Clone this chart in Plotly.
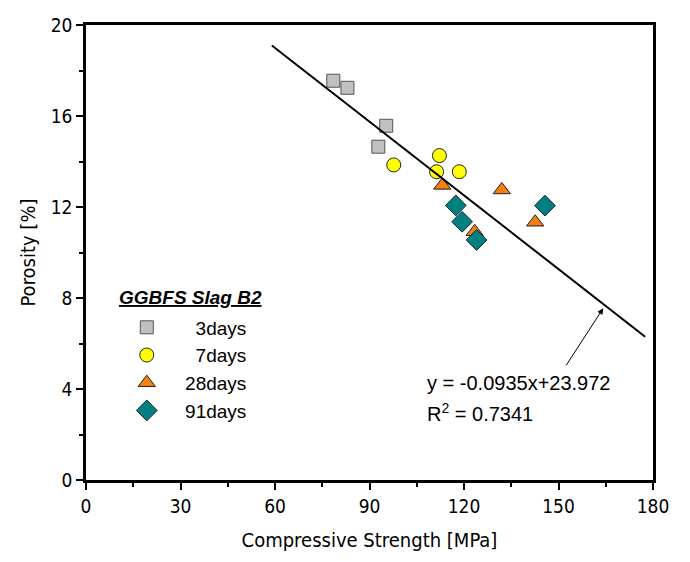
import plotly.graph_objects as go

# Data
d3_x = [78.5, 83.0, 95.3, 92.8]
d3_y = [17.55, 17.24, 15.57, 14.65]
d7_x = [97.7, 112.2, 111.3, 118.5]
d7_y = [13.85, 14.26, 13.55, 13.55]
d28_x = [113.1, 132.0, 142.6, 123.4]
d28_y = [12.95, 12.75, 11.33, 10.91]
d91_x = [117.4, 119.4, 124.0, 145.7]
d91_y = [12.07, 11.35, 10.55, 12.06]
fit_x = [59.0, 177.5]
fit_y = [19.1, 6.3]
x_ticks = [0, 30, 60, 90, 120, 150, 180]
y_ticks = [0, 4, 8, 12, 16, 20]

TICKFONT = "DejaVu Sans Condensed, Liberation Sans Narrow, sans-serif"
TXTFONT = "Liberation Sans, Arial, sans-serif"
OUTLINE = dict(color="#222222", width=1)
PAD = "\u00a0"

fig = go.Figure()
fig.add_trace(go.Scatter(x=d3_x, y=d3_y, mode="markers", name=PAD * 3 + "3days",
                         marker=dict(symbol="square", size=13, color="#C0C0C0",
                                     line=dict(color="#555555", width=1))))
fig.add_trace(go.Scatter(x=d7_x, y=d7_y, mode="markers", name=PAD * 3 + "7days",
                         marker=dict(symbol="circle", size=14, color="#FFFF00", line=OUTLINE)))
fig.add_trace(go.Scatter(x=d28_x, y=d28_y, mode="markers", name=PAD + "28days",
                         marker=dict(symbol="triangle-up", size=15, color="#F57F0F", line=OUTLINE)))
fig.add_trace(go.Scatter(x=d91_x, y=d91_y, mode="markers", name=PAD + "91days",
                         marker=dict(symbol="diamond", size=16, color="#008080", line=OUTLINE)))
fig.add_trace(go.Scatter(x=fit_x, y=fit_y, mode="lines", showlegend=False,
                         line=dict(color="black", width=2)))

axis_common = dict(showline=True, linecolor="black", linewidth=2.5, mirror=True,
                   ticks="outside", tickcolor="black", tickwidth=2, ticklen=7,
                   showgrid=False, zeroline=False, automargin=False,
                   tickfont=dict(family=TICKFONT, size=19, color="black"))

fig.update_xaxes(range=[0, 180], tickvals=x_ticks,
                 minor=dict(dtick=15, ticks="outside", ticklen=4, tickwidth=2, tickcolor="black"),
                 title=dict(text="Compressive Strength [MPa]",
                            font=dict(family=TICKFONT, size=20, color="black"), standoff=18),
                 **axis_common)
fig.update_yaxes(range=[0, 20], tickvals=y_ticks,
                 minor=dict(dtick=2, ticks="outside", ticklen=4, tickwidth=2, tickcolor="black"),
                 title=dict(text="Porosity [%]",
                            font=dict(family=TICKFONT, size=20, color="black"), standoff=10),
                 **axis_common)

fig.add_annotation(x=164.2, y=7.55, ax=151.5, ay=4.84, xref="x", yref="y",
                   axref="x", ayref="y", showarrow=True, arrowhead=2, arrowsize=1.2,
                   arrowwidth=1, arrowcolor="black", text=" ")
fig.add_annotation(x=107.5, y=4.26, xref="x", yref="y", xanchor="left", yanchor="middle",
                   showarrow=False, text="y = -0.0935x+23.972",
                   font=dict(family=TXTFONT, size=20, color="black"))
fig.add_annotation(x=107.5, y=2.95, xref="x", yref="y", xanchor="left", yanchor="middle",
                   showarrow=False, text="R<sup>2</sup> = 0.7341",
                   font=dict(family=TXTFONT, size=20, color="black"))
# legend heading
fig.add_annotation(x=0.0547, y=0.402, xref="paper", yref="paper", xanchor="left",
                   yanchor="middle", showarrow=False,
                   text="<b><i><u>GGBFS Slag B2</u></i></b>",
                   font=dict(family=TXTFONT, size=19, color="black"))

fig.update_layout(
    width=674, height=548,
    margin=dict(l=78, r=29, t=17, b=76),
    plot_bgcolor="white", paper_bgcolor="white",
    showlegend=True,
    legend=dict(x=0.049, y=0.377, xanchor="left", yanchor="top",
                bgcolor="rgba(0,0,0,0)", itemwidth=56,
                font=dict(family=TXTFONT, size=19, color="black"),
                tracegroupgap=0),
)

fig.write_html("out.html")
